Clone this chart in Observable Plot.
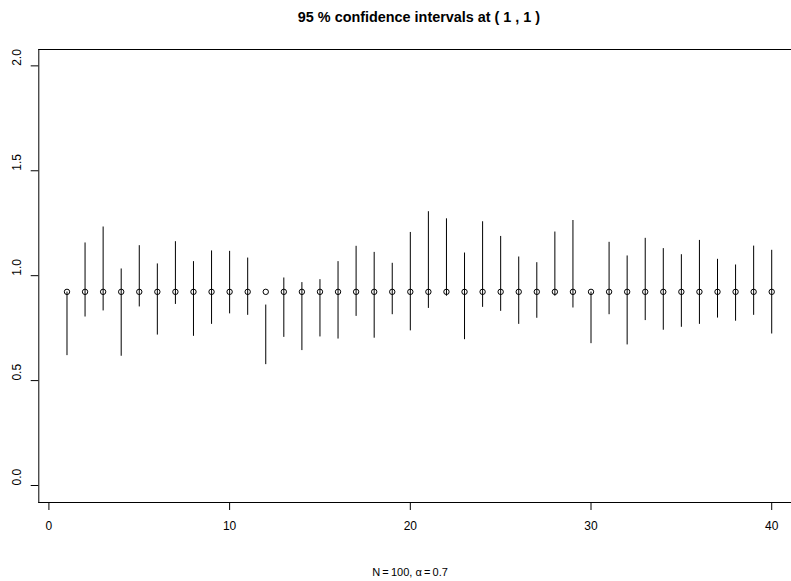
<!DOCTYPE html>
<html>
<head>
<meta charset="utf-8">
<script src="https://cdn.jsdelivr.net/npm/d3@7"></script>
<script src="https://cdn.jsdelivr.net/npm/@observablehq/plot@0.6"></script>
<style>
  html, body { margin: 0; padding: 0; background: #fff; }
  #wrap { position: relative; width: 791px; height: 581px; overflow: hidden; font-family: "Liberation Sans", Arial, Helvetica, sans-serif; }
  #title { position: absolute; left: 0; top: 9.8px; width: 838px; text-align: center; font-weight: bold; font-size: 14.4px; line-height: 14.4px; color: #000; white-space: nowrap; }
  #caption { position: absolute; left: 0; top: 566.7px; width: 820px; text-align: center; font-size: 11px; line-height: 11px; color: #000; white-space: nowrap; }
  #chart { position: absolute; left: 0; top: 0; width: 800px; height: 581px; }
  #chart svg { max-width: none !important; width: 800px !important; height: 581px !important; }
</style>
</head>
<body>
<div id="wrap">
  <div id="chart"></div>
  <div id="title">95 % confidence intervals at ( 1 , 1 )</div>
  <div id="caption">N&#8201;=&#8201;100, α&#8201;=&#8201;0.7</div>
</div>
<script>
const trial = [1,2,3,4,5,6,7,8,9,10,11,12,13,14,15,16,17,18,19,20,
               21,22,23,24,25,26,27,28,29,30,31,32,33,34,35,36,37,38,39,40];
const lower = [0.619,0.803,0.832,0.616,0.851,0.717,0.863,0.711,0.768,0.818,
               0.811,0.576,0.706,0.643,0.708,0.698,0.806,0.702,0.814,0.737,
               0.844,0.902,0.695,0.849,0.830,0.768,0.797,0.902,0.846,0.676,
               0.814,0.670,0.786,0.740,0.754,0.768,0.798,0.783,0.811,0.722];
const upper = [0.922,1.156,1.232,1.032,1.143,1.056,1.162,1.067,1.118,1.116,
               1.084,0.860,0.989,0.967,0.981,1.067,1.140,1.111,1.059,1.206,
               1.305,1.271,1.108,1.257,1.187,1.089,1.062,1.208,1.263,0.922,
               1.159,1.094,1.178,1.129,1.100,1.168,1.078,1.051,1.141,1.121];
const pointEstimate = 0.923;
const xTicks = [0, 10, 20, 30, 40];
const yTicks = [0, 0.5, 1, 1.5, 2];

const data = trial.map((t, i) => ({trial: t, lo: lower[i], hi: upper[i], est: pointEstimate}));

const chart = Plot.plot({
  width: 800,
  height: 581,
  marginLeft: 38.3,
  marginRight: 0.6,
  marginTop: 49,
  marginBottom: 79,
  style: {fontFamily: '"Liberation Sans", Arial, Helvetica, sans-serif', fontSize: "12px", background: "white", color: "black"},
  x: {domain: [-0.56, 41.56], axis: null, label: null},
  y: {domain: [-0.081, 2.078], axis: null, label: null},
  marks: [
    Plot.frame({anchor: "left", stroke: "black", strokeWidth: 1}),
    Plot.frame({anchor: "top", stroke: "black", strokeWidth: 1}),
    Plot.frame({anchor: "bottom", stroke: "black", strokeWidth: 1}),
    Plot.axisX({ticks: xTicks, tickSize: 8, tickFormat: () => "", stroke: "black", label: null}),
    Plot.axisY({ticks: yTicks, tickSize: 7.6, tickFormat: () => "", stroke: "black", label: null}),
    Plot.text(xTicks, {x: d => d, text: d => String(d), frameAnchor: "bottom", dy: 24, lineAnchor: "middle", fill: "black", fontSize: 12}),
    Plot.text(yTicks, {y: d => d, text: d => d.toFixed(1), frameAnchor: "left", dx: -22, rotate: -90, lineAnchor: "middle", fill: "black", fontSize: 12}),
    Plot.ruleX(data, {x: "trial", y1: "lo", y2: "hi", stroke: "black", strokeWidth: 1}),
    Plot.dot(data, {x: "trial", y: "est", r: 2.7, stroke: "black", fill: "none", strokeWidth: 1})
  ]
});
document.getElementById("chart").appendChild(chart);
</script>
</body>
</html>
